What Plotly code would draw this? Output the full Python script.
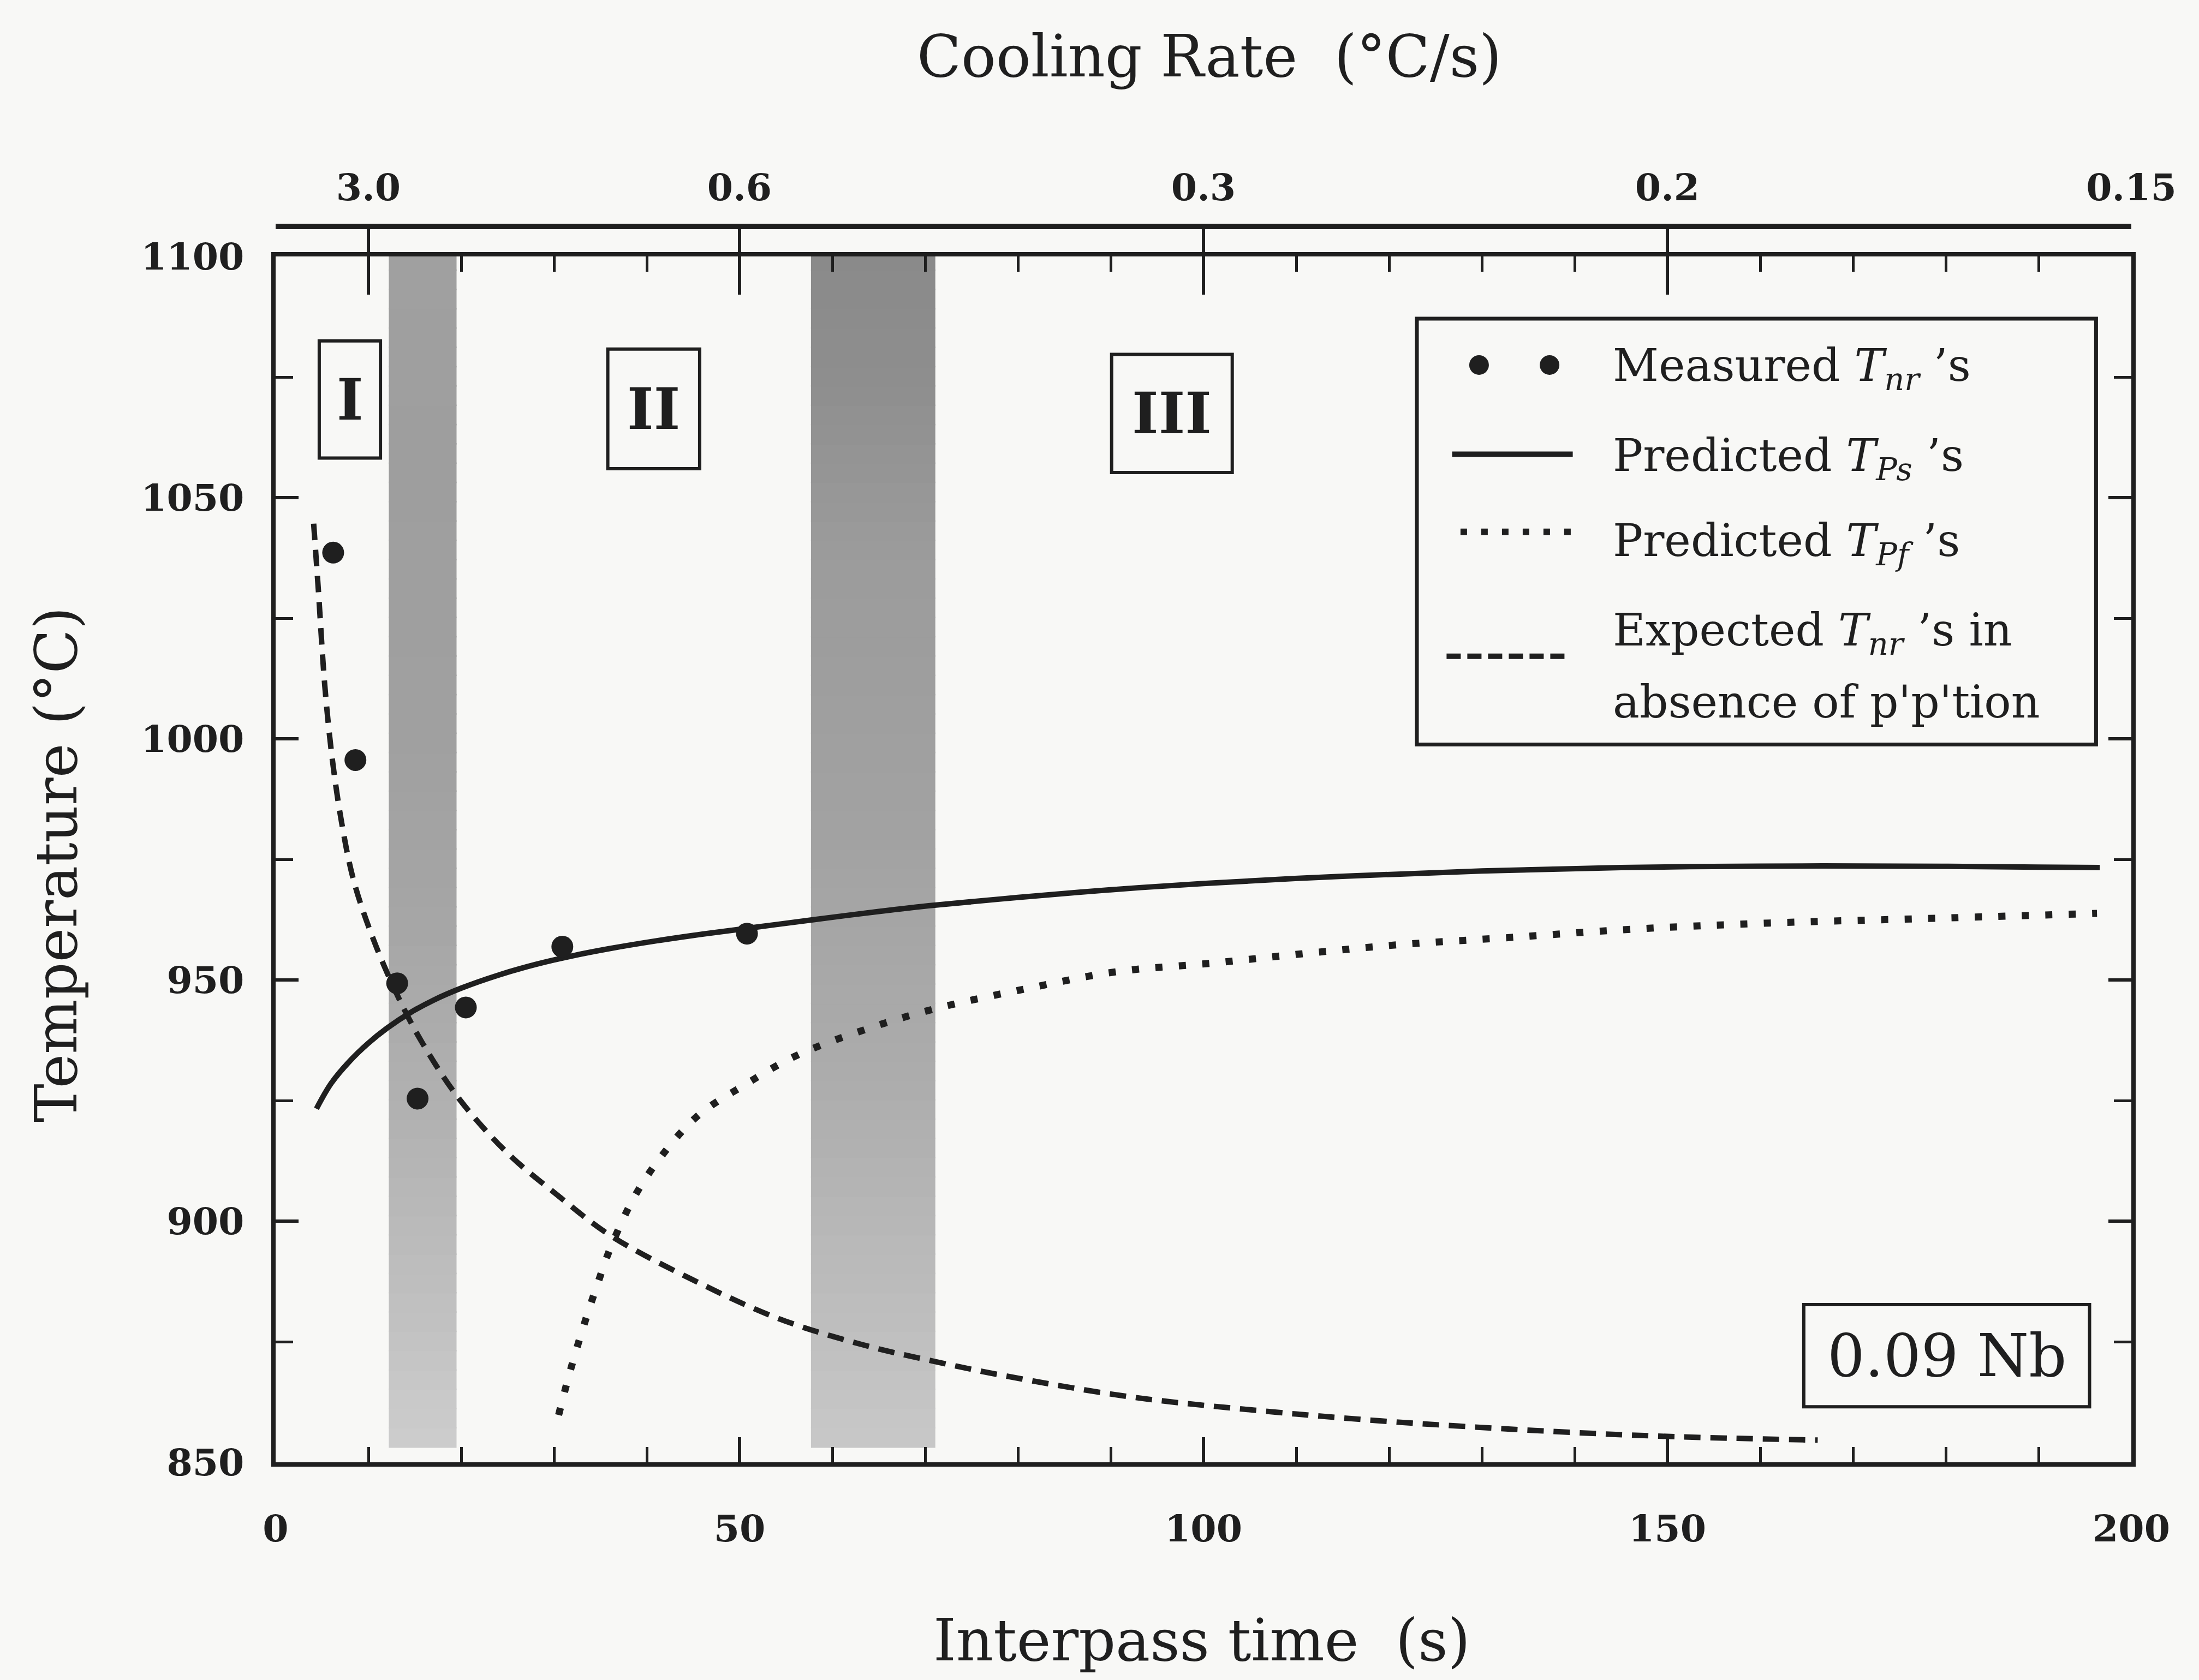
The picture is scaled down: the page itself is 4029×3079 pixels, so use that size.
import plotly.graph_objects as go

# ---------------- data ----------------
# Measured no-recrystallisation temperatures
measured_t = [6.2, 8.6, 13.1, 15.3, 20.5, 30.9, 50.8]
measured_T = [1038.6, 995.6, 949.3, 925.4, 944.3, 956.9, 959.6]

# Predicted precipitation-start temperatures (solid)
tps_t = [4.4, 6, 8, 10, 12, 14.5, 17, 20, 24, 28, 32, 36, 41, 46, 52, 58, 65, 71,
         80, 90, 100, 115, 130, 145, 160, 175, 190, 196.6]
tps_T = [923.3, 928.6, 933.2, 936.9, 940.0, 943.2, 945.8, 948.3, 951.0, 953.2, 955.0,
         956.5, 958.1, 959.5, 961.0, 962.5, 964.2, 965.5, 967.1, 968.7, 970.0, 971.5,
         972.6, 973.3, 973.6, 973.6, 973.4, 973.3]

# Predicted precipitation-finish temperatures (dotted)
tpf_t = [30.5, 31.8, 33.4, 34.7, 36.1, 38.8, 42, 45.6, 50.6, 56, 63.2, 70.8, 80.7,
         90.6, 101, 111, 121, 133, 146, 161, 179, 196.3]
tpf_T = [859.8, 869.3, 879.5, 887.0, 894.5, 905.5, 914.5, 922.0, 928.3, 934.2, 939.5,
         943.9, 948.1, 951.7, 953.5, 955.5, 957.3, 958.8, 960.5, 961.8, 962.8, 963.8]

# Expected Tnr in the absence of precipitation (dashed)
exp_t = [4.1, 4.6, 5.3, 6.1, 7.1, 8.4, 10.5, 13.2, 15.8, 19.8, 25, 30.3, 36.1, 45.1,
         54.2, 63.2, 70.8, 78.4, 92, 105.5, 119, 135.7, 149.4, 166.2]
exp_T = [1044.6, 1031.0, 1011.0, 995.9, 982.8, 970.7, 958.6, 946.5, 937.0, 925.3,
         914.1, 905.5, 897.0, 887.7, 879.8, 874.4, 871.0, 868.0, 863.6, 860.8, 858.6,
         856.6, 855.4, 854.6]

# Shaded transition bands (interpass time ranges, s)
band_ranges = [(12.2, 19.5), (57.7, 71.1)]

# Axis ticks
x_major = [0, 50, 100, 150, 200]
y_major = [850, 900, 950, 1000, 1050, 1100]
rate_tick_times = [10, 50, 100, 150, 200]
rate_tick_text = ["3.0", "0.6", "0.3", "0.2", "0.15"]

# Regime labels
regime_text = ["I", "II", "III"]

# ---------------- styling ----------------
INK = "#1f1f1f"
BG = "#f8f8f6"
SERIF = "DejaVu Serif"

W, H = 4029, 3079
ML, MR, MT, MB = 505, 124, 415, 399
PLOT_TOP_PX = 470
y_dom_top = (H - MB - PLOT_TOP_PX) / (H - MB - MT)

fig = go.Figure()

# --- grey stippled bands, drawn as stacked slices to give a vertical tone change
band_tones = [
    [(853, 205), (880, 193), (920, 178), (960, 166), (1000, 160), (1060, 158), (1100, 160)],
    [(853, 200), (880, 190), (930, 172), (980, 162), (1040, 155), (1075, 142), (1100, 138)],
]


def tone_at(stops, T):
    for (a, ga), (b, gb) in zip(stops[:-1], stops[1:]):
        if a <= T <= b:
            f = (T - a) / (b - a)
            return ga + f * (gb - ga)
    return stops[-1][1]


shapes = []
for (t0, t1), stops in zip(band_ranges, band_tones):
    T = 853.0
    step = 4.0
    while T < 1100:
        T2 = min(T + step, 1100)
        g = int(round(tone_at(stops, (T + T2) / 2)))
        shapes.append(dict(type="rect", xref="x", yref="y", x0=t0, x1=t1, y0=T, y1=T2 + 0.3,
                           fillcolor=f"rgb({g},{g},{g})", line=dict(width=0), layer="below"))
        T = T2

# --- curves
fig.add_trace(go.Scatter(x=tpf_t, y=tpf_T, mode="lines", showlegend=False, hoverinfo="skip",
                         line=dict(color=INK, width=13, dash="13px,30px", shape="spline", smoothing=1.0)))
fig.add_trace(go.Scatter(x=exp_t, y=exp_T, mode="lines", showlegend=False, hoverinfo="skip",
                         line=dict(color=INK, width=10, dash="30px,18px", shape="spline", smoothing=1.0)))
fig.add_trace(go.Scatter(x=tps_t, y=tps_T, mode="lines", showlegend=False, hoverinfo="skip",
                         line=dict(color=INK, width=10, shape="spline", smoothing=1.0)))
fig.add_trace(go.Scatter(x=measured_t, y=measured_T, mode="markers", showlegend=False,
                         hoverinfo="skip", marker=dict(color=INK, size=40)))
# anchor trace so the cooling-rate axis is built
fig.add_trace(go.Scatter(x=[0, 200], y=[None, None], xaxis="x2", yaxis="y", mode="lines",
                         showlegend=False, hoverinfo="skip"))

# --- regime boxes
regime_boxes = [(4.7, 11.3, 1058.2, 1082.5), (35.8, 45.7, 1056.0, 1080.8), (90.1, 103.1, 1055.2, 1079.7)]
annotations = []
for (x0, x1, y0, y1), txt in zip(regime_boxes, regime_text):
    shapes.append(dict(type="rect", xref="x", yref="y", x0=x0, x1=x1, y0=y0, y1=y1,
                       line=dict(color=INK, width=6), fillcolor="rgba(0,0,0,0)"))
    annotations.append(dict(x=(x0 + x1) / 2, y=(y0 + y1) / 2, xref="x", yref="y", text=txt,
                            showarrow=False, xanchor="center", yanchor="middle",
                            font=dict(family=SERIF, size=104, color=INK, weight="bold")))

# --- legend box
shapes.append(dict(type="rect", xref="x", yref="y", x0=123.0, x1=196.2, y0=998.8, y1=1087.1,
                   line=dict(color=INK, width=7), fillcolor=BG))
for mx in (129.7, 137.3):
    shapes.append(dict(type="circle", xref="x", yref="y", xsizemode="pixel", ysizemode="pixel",
                       xanchor=mx, yanchor=1077.5, x0=-18, x1=18, y0=-18, y1=18,
                       fillcolor=INK, line=dict(width=0)))
shapes.append(dict(type="line", xref="x", yref="y", x0=126.8, x1=139.8, y0=1059.0, y1=1059.0,
                   line=dict(color=INK, width=10)))
shapes.append(dict(type="line", xref="x", yref="y", x0=127.7, x1=139.8, y0=1042.9, y1=1042.9,
                   line=dict(color=INK, width=12, dash="12px,26px")))
shapes.append(dict(type="line", xref="x", yref="y", x0=126.2, x1=139.0, y0=1017.1, y1=1017.1,
                   line=dict(color=INK, width=10, dash="26px,12px")))

legend_rows = [
    ("Measured <i>T<sub>nr</sub></i> \u2019s", 1076.8),
    ("Predicted <i>T<sub>Ps</sub></i> \u2019s", 1058.1),
    ("Predicted <i>T<sub>Pf</sub></i> \u2019s", 1040.4),
    ("Expected <i>T<sub>nr</sub></i> \u2019s in", 1021.9),
    ("absence of p'p'tion", 1007.6),
]
for txt, yy in legend_rows:
    annotations.append(dict(x=144.0, y=yy, xref="x", yref="y", text=txt, showarrow=False,
                            xanchor="left", yanchor="middle",
                            font=dict(family=SERIF, size=82, color=INK)))

# --- composition box
shapes.append(dict(type="rect", xref="x", yref="y", x0=164.7, x1=195.5, y0=861.5, y1=882.7,
                   line=dict(color=INK, width=6), fillcolor="rgba(0,0,0,0)"))
annotations.append(dict(x=180.1, y=872.1, xref="x", yref="y", text="0.09 Nb", showarrow=False,
                        xanchor="center", yanchor="middle",
                        font=dict(family=SERIF, size=108, color=INK)))

# --- axis titles (positions given in pixels, converted to paper fractions below)
pw, ph = W - ML - MR, H - MT - MB
titles = [
    ("Temperature (°C)", 103, 1585, -90),
    ("Interpass time  (s)", 2202, 3006, 0),
    ("Cooling Rate  (°C/s)", 2215, 103, 0),
]
for txt, px, py, ang in titles:
    annotations.append(dict(x=(px - ML) / pw, y=(H - MB - py) / ph, xref="paper", yref="paper",
                            text=txt, showarrow=False, textangle=ang,
                            xanchor="center", yanchor="middle",
                            font=dict(family=SERIF, size=106, color=INK)))

tickfont = dict(family=SERIF, size=68, color=INK, weight="bold")

fig.update_layout(
    width=W, height=H,
    margin=dict(l=ML, r=MR, t=MT, b=MB, pad=0),
    paper_bgcolor=BG, plot_bgcolor=BG,
    showlegend=False,
    shapes=shapes,
    annotations=annotations,
    xaxis=dict(range=[0, 200], domain=[0, 1], anchor="y", tickmode="array", tickvals=x_major,
               ticks="inside", ticklen=46, tickwidth=6, tickcolor=INK,
               minor=dict(dtick=10, tick0=0, ticks="inside", ticklen=28, tickwidth=5, tickcolor=INK),
               showline=True, linewidth=8, linecolor=INK, mirror="ticks",
               showgrid=False, zeroline=False, tickfont=tickfont, ticklabelstandoff=55),
    yaxis=dict(range=[850, 1100], domain=[0, y_dom_top], anchor="x", tickmode="array",
               tickvals=y_major, ticks="inside", ticklen=42, tickwidth=6, tickcolor=INK,
               minor=dict(dtick=25, tick0=850, ticks="inside", ticklen=32, tickwidth=5, tickcolor=INK),
               showline=True, linewidth=8, linecolor=INK, mirror="ticks",
               showgrid=False, zeroline=False, tickfont=tickfont, ticklabelstandoff=36),
    xaxis2=dict(range=[0, 200], overlaying="x", side="top", anchor="free", position=1,
                tickmode="array", tickvals=rate_tick_times, ticktext=rate_tick_text,
                ticks="inside", ticklen=120, tickwidth=6, tickcolor=INK,
                showline=True, linewidth=10, linecolor=INK,
                showgrid=False, zeroline=False, tickfont=tickfont, ticklabelstandoff=16),
)

fig.write_html("out.html")
